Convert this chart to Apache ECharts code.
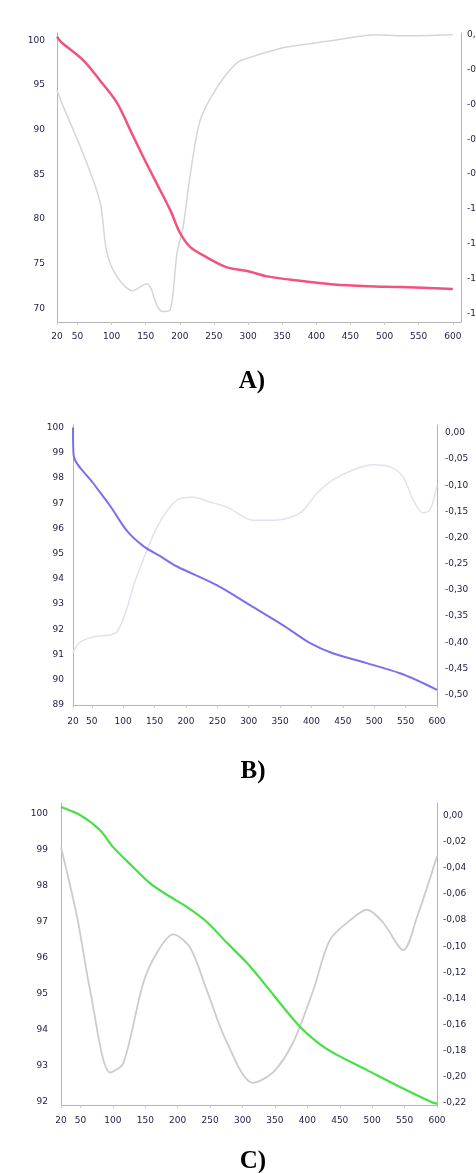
<!DOCTYPE html>
<html><head><meta charset="utf-8">
<script src="https://cdn.jsdelivr.net/npm/echarts@6/dist/echarts.min.js"></script>
<style>html,body{margin:0;padding:0;background:#fff}#c{width:476px;height:1173px}</style>
</head><body><div id="c"></div><script>
// ---- tick labels ----
const xTicks = [20, 50, 100, 150, 200, 250, 300, 350, 400, 450, 500, 550, 600];
const aLeftTicks = [70, 75, 80, 85, 90, 95, 100];
const aRightTicks = [0, -0.2, -0.4, -0.6, -0.8, -1.0, -1.2, -1.4, -1.6];
const bLeftTicks = [89, 90, 91, 92, 93, 94, 95, 96, 97, 98, 99, 100];
const bRightTicks = [0, -0.05, -0.10, -0.15, -0.20, -0.25, -0.30, -0.35, -0.40, -0.45, -0.50];
const cLeftTicks = [92, 93, 94, 95, 96, 97, 98, 99, 100];
const cRightTicks = [0, -0.02, -0.04, -0.06, -0.08, -0.10, -0.12, -0.14, -0.16, -0.18, -0.20, -0.22];
const captions = ['A)', 'B)', 'C)'];

// ---- A: mass (%) and derivative ----
const aTgT = [20, 26, 58, 83, 108, 127, 146, 166, 186, 200, 215, 240, 269, 299, 328, 376, 425, 475, 523, 600];
const aTg  = [100.4, 99.8, 97.8, 95.5, 93.0, 90.0, 87.0, 84.0, 81.0, 78.5, 76.9, 75.7, 74.6, 74.2, 73.6, 73.1, 72.7, 72.5, 72.4, 72.2];
const aDtgT = [20, 30, 58, 83, 93, 108, 131, 152, 158, 167, 175, 186, 196, 205, 215, 230, 255, 284, 303, 351, 401, 450, 486, 526, 600];
const aDtg  = [-0.32, -0.42, -0.68, -0.96, -1.25, -1.39, -1.47, -1.43, -1.46, -1.56, -1.59, -1.58, -1.25, -1.10, -0.81, -0.49, -0.30, -0.16, -0.13, -0.075, -0.046, -0.017, 0, -0.006, 0];

// ---- B ----
const bTgT = [20, 21, 52, 79, 106, 132, 159, 185, 249, 302, 355, 398, 434, 488, 541, 568, 600];
const bTg  = [100.0, 98.9, 97.8, 96.9, 95.9, 95.3, 94.9, 94.5, 93.75, 92.96, 92.16, 91.45, 91.05, 90.66, 90.26, 89.98, 89.6];
const bDtgT = [20, 31, 52, 90, 120, 154, 186, 211, 238, 265, 307, 340, 382, 409, 434, 466, 498, 525, 546, 562, 578, 589, 600];
const bDtg  = [-0.42, -0.40, -0.39, -0.38, -0.28, -0.18, -0.128, -0.123, -0.132, -0.142, -0.167, -0.167, -0.153, -0.115, -0.090, -0.071, -0.061, -0.065, -0.084, -0.128, -0.153, -0.147, -0.10];

// ---- C ----
const cTgT = [20, 49, 80, 100, 131, 157, 184, 214, 245, 276, 307, 338, 363, 389, 415, 440, 492, 543, 594, 600];
const cTg  = [100.19, 99.97, 99.55, 99.08, 98.52, 98.07, 97.74, 97.41, 96.99, 96.41, 95.85, 95.18, 94.62, 94.07, 93.65, 93.35, 92.87, 92.40, 91.96, 91.94];
const cDtgT = [20, 45, 65, 96, 116, 147, 168, 193, 219, 245, 276, 316, 347, 378, 409, 435, 466, 492, 517, 548, 569, 600];
const cDtg  = [-0.024, -0.078, -0.134, -0.197, -0.190, -0.128, -0.105, -0.091, -0.101, -0.134, -0.174, -0.205, -0.197, -0.174, -0.134, -0.095, -0.080, -0.072, -0.082, -0.103, -0.078, -0.031];

const pairs = (xs, ys) => xs.map((x, i) => [x, ys[i]]);
const comma = v => v.toFixed(2).replace('.', ',');

const labelFont = { fontFamily: 'DejaVu Sans', fontSize: 9, color: '#1c1c44' };
const axisLine = { show: true, onZero: false, lineStyle: { color: '#b4b4b4', width: 1 } };

function xAx(grid, max, margin) {
  return { type: 'value', gridIndex: grid, min: 20, max: max, axisLine: axisLine,
    splitLine: { show: false },
    axisTick: { show: true, customValues: xTicks, length: 3, lineStyle: { color: '#cccccc' } },
    axisLabel: Object.assign({ customValues: xTicks, margin: margin, formatter: v => String(v) }, labelFont) };
}
function yAx(grid, min, max, ticks, pos, margin, fmt) {
  return { type: 'value', gridIndex: grid, position: pos, min: min, max: max,
    axisLine: axisLine, splitLine: { show: false }, axisTick: { show: false },
    axisLabel: Object.assign({ customValues: ticks, margin: margin, formatter: fmt }, labelFont) };
}
function line(xi, yi, data, color, width) {
  return { type: 'line', xAxisIndex: xi, yAxisIndex: yi, data: data, smooth: 0.3,
    showSymbol: false, symbol: 'none', silent: true,
    lineStyle: { color: color, width: width } };
}

const chart = echarts.init(document.getElementById('c'), null, { renderer: 'canvas' });
chart.setOption({
  animation: false,
  backgroundColor: '#ffffff',
  grid: [
    { left: 57, right: 15, top: 33, height: 289, outerBoundsMode: 'none', containLabel: false },
    { left: 73, right: 39, top: 425, height: 280, outerBoundsMode: 'none', containLabel: false },
    { left: 61, right: 39, top: 803, height: 302, outerBoundsMode: 'none', containLabel: false }
  ],
  xAxis: [ xAx(0, 612, 10), xAx(1, 600, 12), xAx(2, 600, 11) ],
  yAxis: [
    yAx(0, 68.5, 100.8, aLeftTicks, 'left', 12, v => String(v)),
    yAx(0, -1.65, 0.01, aRightTicks, 'right', 6, comma),
    yAx(1, 89, 100.1, bLeftTicks, 'left', 9, v => String(v)),
    yAx(1, -0.52, 0.015, bRightTicks, 'right', 8, comma),
    yAx(2, 91.9, 100.3, cLeftTicks, 'left', 13, v => String(v)),
    yAx(2, -0.222, 0.01, cRightTicks, 'right', 6, comma)
  ],
  series: [
    line(0, 1, pairs(aDtgT, aDtg), '#d6d6d6', 1.5),
    line(0, 0, pairs(aTgT, aTg), '#f2527c', 2.5),
    line(1, 3, pairs(bDtgT, bDtg), '#e2e2ee', 1.5),
    line(1, 2, pairs(bTgT, bTg), '#7a6ff0', 2),
    line(2, 5, pairs(cDtgT, cDtg), '#cfcacf', 1.8),
    line(2, 4, pairs(cTgT, cTg), '#44e044', 2.2)
  ],
  graphic: [
    { type: 'text', x: 252, y: 382, style: { text: captions[0], align: 'center', verticalAlign: 'middle', fontFamily: 'Liberation Serif', fontWeight: 'bold', fontSize: 25, fill: '#000' } },
    { type: 'text', x: 253, y: 772, style: { text: captions[1], align: 'center', verticalAlign: 'middle', fontFamily: 'Liberation Serif', fontWeight: 'bold', fontSize: 25, fill: '#000' } },
    { type: 'text', x: 253, y: 1162, style: { text: captions[2], align: 'center', verticalAlign: 'middle', fontFamily: 'Liberation Serif', fontWeight: 'bold', fontSize: 25, fill: '#000' } }
  ]
});
</script></body></html>
